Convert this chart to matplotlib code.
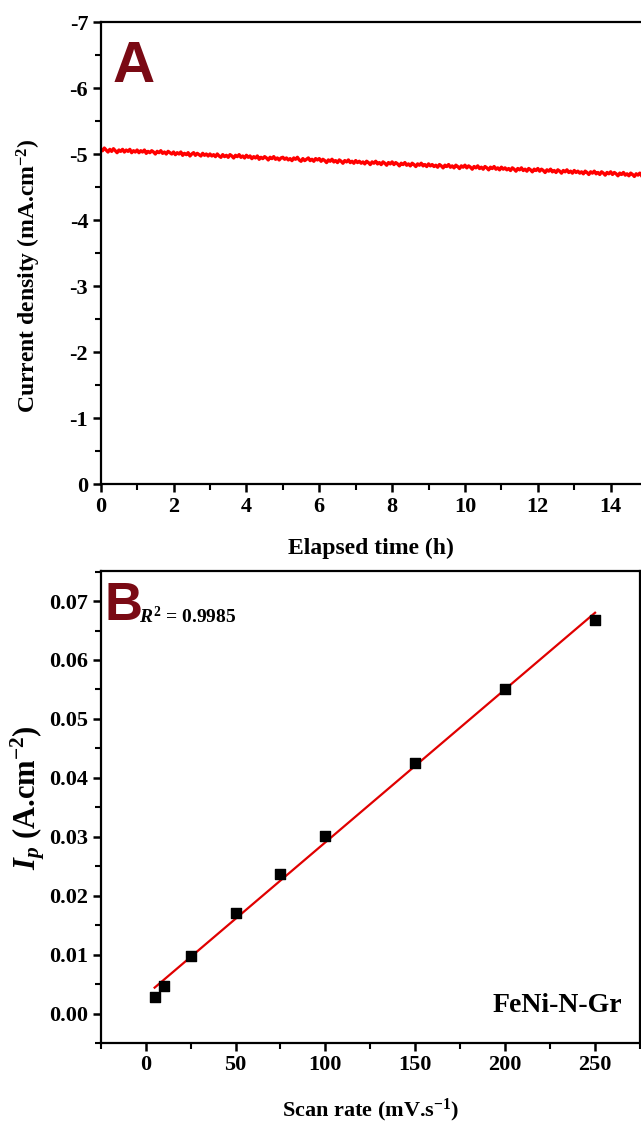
import numpy as np
import matplotlib
matplotlib.use("Agg")
import matplotlib.pyplot as plt
from matplotlib.ticker import MultipleLocator, FormatStrFormatter

plt.rcParams['font.family'] = ['Liberation Serif', 'DejaVu Serif']
plt.rcParams['font.weight'] = 'bold'
plt.rcParams['axes.unicode_minus'] = False
plt.rcParams['mathtext.fontset'] = 'custom'
plt.rcParams['mathtext.rm'] = 'Liberation Serif:bold'
plt.rcParams['mathtext.bf'] = 'Liberation Serif:bold'
plt.rcParams['mathtext.it'] = 'Liberation Serif:italic:bold'

# ---------------- Data ----------------
# Panel A: chronoamperometry, sampled every 0.05 h (one row per hour)
time_step_h = 0.05
current_density = [
    -5.08, -5.05, -5.09, -5.06, -5.03, -5.07, -5.04, -5.08, -5.05, -5.02, -5.06, -5.04, -5.07, -5.03, -5.06, -5.04, -5.07, -5.02, -5.05, -5.03,
    -5.06, -5.02, -5.05, -5.03, -5.06, -5.01, -5.04, -5.02, -5.05, -5.03, -5.00, -5.04, -5.02, -5.05, -5.01, -5.03, -5.00, -5.04, -5.02, -5.00,
    -5.03, -4.99, -5.02, -5.00, -5.03, -4.98, -5.01, -4.99, -5.02, -4.97, -5.00, -5.02, -4.98, -5.01, -4.99, -4.97, -5.01, -4.98, -5.00, -4.97,
    -5.00, -4.97, -4.99, -4.96, -5.00, -4.97, -4.95, -4.99, -4.96, -4.98, -4.95, -4.99, -4.97, -4.94, -4.98, -4.96, -4.99, -4.95, -4.97, -4.94,
    -4.98, -4.95, -4.97, -4.93, -4.96, -4.94, -4.97, -4.92, -4.95, -4.93, -4.96, -4.94, -4.91, -4.95, -4.93, -4.96, -4.92, -4.94, -4.91, -4.94,
    -4.95, -4.92, -4.94, -4.91, -4.93, -4.90, -4.94, -4.92, -4.95, -4.91, -4.89, -4.93, -4.90, -4.92, -4.94, -4.90, -4.92, -4.89, -4.93, -4.91,
    -4.93, -4.89, -4.92, -4.90, -4.87, -4.91, -4.89, -4.92, -4.88, -4.90, -4.87, -4.91, -4.89, -4.86, -4.90, -4.88, -4.91, -4.87, -4.89, -4.86,
    -4.90, -4.87, -4.89, -4.86, -4.88, -4.85, -4.89, -4.87, -4.84, -4.88, -4.86, -4.89, -4.85, -4.87, -4.84, -4.88, -4.86, -4.83, -4.87, -4.85,
    -4.88, -4.84, -4.87, -4.85, -4.82, -4.86, -4.84, -4.87, -4.83, -4.85, -4.82, -4.86, -4.84, -4.81, -4.85, -4.83, -4.86, -4.82, -4.84, -4.81,
    -4.85, -4.82, -4.84, -4.81, -4.83, -4.80, -4.84, -4.82, -4.79, -4.83, -4.81, -4.84, -4.80, -4.82, -4.79, -4.83, -4.81, -4.78, -4.82, -4.80,
    -4.83, -4.79, -4.82, -4.80, -4.77, -4.81, -4.79, -4.82, -4.78, -4.80, -4.77, -4.81, -4.79, -4.76, -4.80, -4.78, -4.81, -4.77, -4.79, -4.76,
    -4.80, -4.77, -4.79, -4.76, -4.78, -4.75, -4.79, -4.77, -4.74, -4.78, -4.76, -4.79, -4.75, -4.77, -4.74, -4.78, -4.76, -4.73, -4.77, -4.75,
    -4.78, -4.74, -4.77, -4.75, -4.72, -4.76, -4.74, -4.77, -4.73, -4.75, -4.72, -4.76, -4.74, -4.71, -4.75, -4.73, -4.76, -4.72, -4.74, -4.71,
    -4.75, -4.72, -4.74, -4.71, -4.73, -4.70, -4.74, -4.72, -4.69, -4.73, -4.71, -4.74, -4.70, -4.72, -4.69, -4.73, -4.71, -4.68, -4.72, -4.70,
    -4.73, -4.69, -4.72, -4.70, -4.67, -4.71, -4.69, -4.72, -4.68, -4.70, -4.67, -4.71, -4.69, -4.66, -4.70, -4.68, -4.71, -4.67,
]
elapsed_time = np.arange(len(current_density)) * time_step_h

# Panel B: peak current vs scan rate
scan_rate = [5, 10, 25, 50, 75, 100, 150, 200, 250]
peak_current = [0.0028, 0.0046, 0.0097, 0.0171, 0.0237, 0.0302, 0.0426, 0.0551, 0.0667]
r2_text = "$\\mathit{R}^2$ = 0.9985"
sample_name = "FeNi-N-Gr"

# ---------------- Figure ----------------
W, H = 641, 1122
fig = plt.figure(figsize=(W / 100, H / 100), dpi=100)

def frac(x0, y0, x1, y1):
    return [x0 / W, 1 - y1 / H, (x1 - x0) / W, (y1 - y0) / H]

label_color = '#7A0A14'
tick_fs = 16

def style_axes(ax):
    ax.tick_params(which='major', direction='out', length=6, width=1.8,
                   labelsize=tick_fs, pad=3)
    ax.tick_params(which='minor', direction='out', length=4, width=1.5)
    for s in ax.spines.values():
        s.set_linewidth(1.6)
    for lab in ax.get_xticklabels() + ax.get_yticklabels():
        lab.set_fontweight('bold')

# ---- Panel A ----
axA = fig.add_axes(frac(100.7, 22, 642, 484))
axA.plot(elapsed_time, current_density, color='#FF0000', lw=2.4)
axA.set_xlim(0, 14.86)
axA.set_ylim(0, -7)
axA.xaxis.set_major_locator(MultipleLocator(2))
axA.xaxis.set_minor_locator(MultipleLocator(1))
axA.yaxis.set_major_locator(MultipleLocator(1))
axA.yaxis.set_minor_locator(MultipleLocator(0.5))
axA.spines['right'].set_visible(False)
style_axes(axA)
axA.set_xlabel('Elapsed time (h)', fontsize=17, fontweight='bold', labelpad=15)
axA.set_ylabel('Current density (mA.cm$^{-2}$)', fontsize=17, fontweight='bold')
axA.yaxis.set_label_coords(-0.106, 0.45)
axA.text(113 / W, 1 - 82 / H, 'A', transform=fig.transFigure, fontsize=42,
         fontweight='bold', color=label_color, family='Liberation Sans',
         ha='left', va='baseline')

# ---- Panel B ----
axB = fig.add_axes(frac(100.7, 571, 640, 1043))
axB.scatter(scan_rate, peak_current, marker='s', s=55, color='black', zorder=3)
slope, intercept = np.polyfit(scan_rate, peak_current, 1)
fit_x = np.array([min(scan_rate), max(scan_rate)])
axB.plot(fit_x, slope * fit_x + intercept, color='#E00000', lw=1.6, zorder=2)
axB.set_xlim(-25, 275)
axB.set_ylim(-0.005, 0.0751)
axB.xaxis.set_major_locator(MultipleLocator(50))
axB.xaxis.set_minor_locator(MultipleLocator(25))
axB.yaxis.set_major_locator(MultipleLocator(0.01))
axB.yaxis.set_minor_locator(MultipleLocator(0.005))
axB.yaxis.set_major_formatter(FormatStrFormatter('%.2f'))
style_axes(axB)
axB.set_xlabel('Scan rate (mV.s$^{-1}$)', fontsize=16, fontweight='bold', labelpad=15)
axB.set_ylabel('$\\mathit{I}_{\\mathit{p}}$ (A.cm$^{-2}$)', fontsize=22, fontweight='bold')
axB.yaxis.set_label_coords(-0.1, 0.52)
axB.text(105 / W, 1 - 620 / H, 'B', transform=fig.transFigure, fontsize=38,
         fontweight='bold', color=label_color, family='Liberation Sans',
         ha='left', va='baseline')
axB.text(139 / W, 1 - 623 / H, r2_text, transform=fig.transFigure, fontsize=14,
         fontweight='bold', ha='left', va='baseline')
axB.text(0.967, 0.08, sample_name, transform=axB.transAxes, fontsize=20,
         fontweight='bold', ha='right', va='center')

fig.savefig('out.png', dpi=100, facecolor='white')
